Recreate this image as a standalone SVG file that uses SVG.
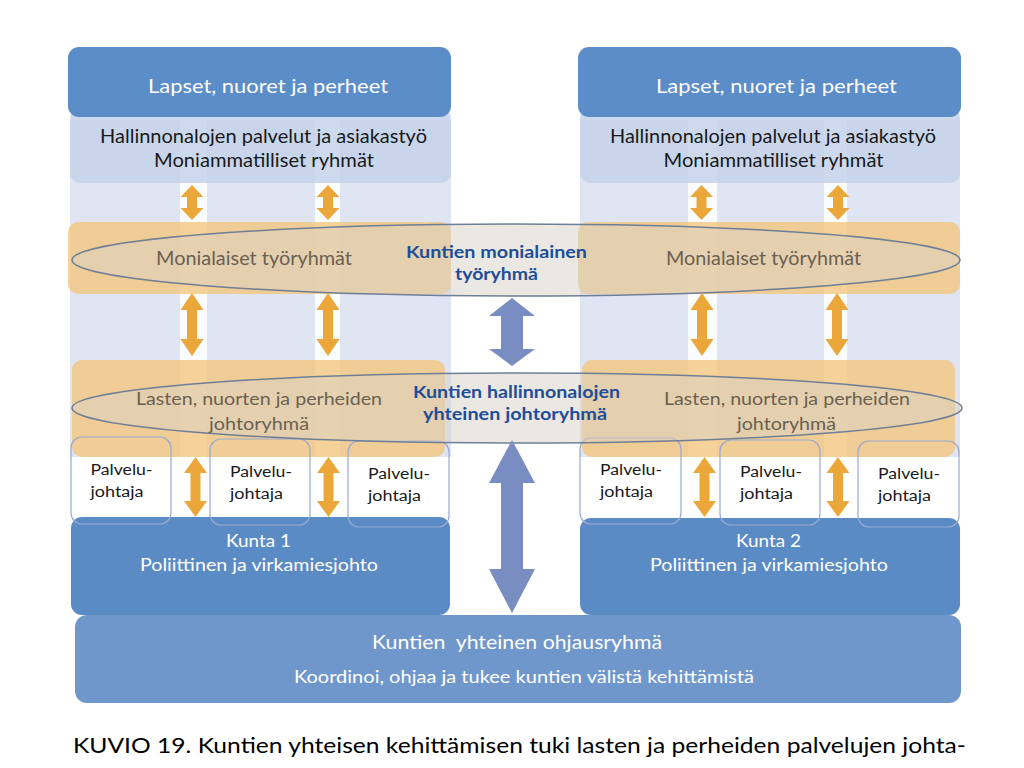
<svg xmlns="http://www.w3.org/2000/svg" width="1024" height="768" viewBox="0 0 1024 768">
<style>
text{font-family:Lato,"Open Sans","DejaVu Sans",sans-serif;}
.w{fill:#ffffff;}
.dk{fill:#1a1a1a;}
.br{fill:#6b6152;}
.bl{fill:#1f4e99;font-weight:bold;}
.col{fill:#dfe5f2;}
.stripe{fill:#fbfcfe;}
.hall{fill:#c4d2ea;opacity:0.85;}
.top{fill:#5b8dc8;}
.band{fill:#f4c77f;opacity:0.8;}
.pal{fill:none;stroke:#98aad0;stroke-width:1.2;}
.kunta{fill:#5b8bc5;}
.ell{fill:#d8d2c8;fill-opacity:0.5;stroke:#6f7f96;stroke-width:1.5;}
.oa{fill:#eba73a;}
.ba{fill:#7a8dc3;}
.bottom{fill:#6f97cb;}
</style>
<rect x="0" y="0" width="1024" height="768" fill="#ffffff"/>

<g id="left-column">
<rect class="col" x="70" y="120" width="381" height="337"/>
<rect class="stripe" x="180" y="120" width="27" height="337"/>
<rect class="stripe" x="315" y="120" width="25" height="337"/>
</g>
<g id="right-column">
<rect class="col" x="580" y="120" width="380" height="337"/>
<rect class="stripe" x="688" y="120" width="29" height="337"/>
<rect class="stripe" x="824" y="120" width="23" height="337"/>
</g>

<g id="hall-1">
<rect class="hall" x="70" y="108" width="381" height="75" rx="10"/>
<text class="dk" x="263.5" y="143" font-size="19" text-anchor="middle" textLength="327" lengthAdjust="spacingAndGlyphs">Hallinnonalojen palvelut ja asiakastyö</text>
<text class="dk" x="264" y="167" font-size="19" text-anchor="middle" textLength="220" lengthAdjust="spacingAndGlyphs">Moniammatilliset ryhmät</text>
</g>
<g id="hall-2">
<rect class="hall" x="580" y="108" width="380" height="75" rx="10"/>
<text class="dk" x="773" y="143" font-size="19" text-anchor="middle" textLength="326" lengthAdjust="spacingAndGlyphs">Hallinnonalojen palvelut ja asiakastyö</text>
<text class="dk" x="773.5" y="167" font-size="19" text-anchor="middle" textLength="220" lengthAdjust="spacingAndGlyphs">Moniammatilliset ryhmät</text>
</g>

<g id="lapset-1">
<rect class="top" x="68" y="47" width="383" height="70" rx="11"/>
<text class="w" x="268" y="93" font-size="20" text-anchor="middle" textLength="240" lengthAdjust="spacingAndGlyphs">Lapset, nuoret ja perheet</text>
</g>
<g id="lapset-2">
<rect class="top" x="578" y="47" width="383" height="70" rx="11"/>
<text class="w" x="776.5" y="93" font-size="20" text-anchor="middle" textLength="241" lengthAdjust="spacingAndGlyphs">Lapset, nuoret ja perheet</text>
</g>

<g id="monialaiset-1">
<rect class="band" x="68" y="222" width="383" height="72" rx="10"/>
</g>
<g id="monialaiset-2">
<rect class="band" x="578" y="222" width="382" height="72" rx="10"/>
</g>
<g id="lasten-1">
<rect class="band" x="72" y="360" width="373" height="97" rx="10"/>
</g>
<g id="lasten-2">
<rect class="band" x="582" y="360" width="373" height="97" rx="10"/>
</g>

<g id="kunta-1">
<rect class="kunta" x="71" y="517" width="379" height="98" rx="11"/>
<text class="w" x="258.5" y="546.5" font-size="17.5" text-anchor="middle" textLength="65" lengthAdjust="spacingAndGlyphs">Kunta 1</text>
<text class="w" x="259" y="571" font-size="17.5" text-anchor="middle" textLength="238" lengthAdjust="spacingAndGlyphs">Poliittinen ja virkamiesjohto</text>
</g>
<g id="kunta-2">
<rect class="kunta" x="580" y="518" width="380" height="97" rx="11"/>
<text class="w" x="768.5" y="546.5" font-size="17.5" text-anchor="middle" textLength="65" lengthAdjust="spacingAndGlyphs">Kunta 2</text>
<text class="w" x="769" y="571" font-size="17.5" text-anchor="middle" textLength="238" lengthAdjust="spacingAndGlyphs">Poliittinen ja virkamiesjohto</text>
</g>

<g id="palvelu-1a">
<rect class="pal" x="71" y="437" width="100" height="87" rx="11"/>
<text class="dk" x="90.5" y="475" font-size="15.5" textLength="62" lengthAdjust="spacingAndGlyphs">Palvelu-</text>
<text class="dk" x="90.5" y="497" font-size="15.5" textLength="53" lengthAdjust="spacingAndGlyphs">johtaja</text>
</g>
<g id="palvelu-1b">
<rect class="pal" x="210" y="439" width="100" height="86" rx="11"/>
<text class="dk" x="230" y="476.5" font-size="15.5" textLength="62" lengthAdjust="spacingAndGlyphs">Palvelu-</text>
<text class="dk" x="230" y="498.5" font-size="15.5" textLength="53" lengthAdjust="spacingAndGlyphs">johtaja</text>
</g>
<g id="palvelu-1c">
<rect class="pal" x="348" y="441" width="101" height="86" rx="11"/>
<text class="dk" x="368" y="478.5" font-size="15.5" textLength="62" lengthAdjust="spacingAndGlyphs">Palvelu-</text>
<text class="dk" x="368" y="500.5" font-size="15.5" textLength="53" lengthAdjust="spacingAndGlyphs">johtaja</text>
</g>
<g id="palvelu-2a">
<rect class="pal" x="580" y="438" width="101" height="86" rx="11"/>
<text class="dk" x="600" y="475" font-size="15.5" textLength="62" lengthAdjust="spacingAndGlyphs">Palvelu-</text>
<text class="dk" x="600" y="497" font-size="15.5" textLength="53" lengthAdjust="spacingAndGlyphs">johtaja</text>
</g>
<g id="palvelu-2b">
<rect class="pal" x="720" y="440" width="100" height="85" rx="11"/>
<text class="dk" x="740" y="476.5" font-size="15.5" textLength="62" lengthAdjust="spacingAndGlyphs">Palvelu-</text>
<text class="dk" x="740" y="498.5" font-size="15.5" textLength="53" lengthAdjust="spacingAndGlyphs">johtaja</text>
</g>
<g id="palvelu-2c">
<rect class="pal" x="858" y="441" width="101" height="86" rx="11"/>
<text class="dk" x="878" y="478.5" font-size="15.5" textLength="62" lengthAdjust="spacingAndGlyphs">Palvelu-</text>
<text class="dk" x="878" y="500.5" font-size="15.5" textLength="53" lengthAdjust="spacingAndGlyphs">johtaja</text>
</g>

<g id="kuntien-monialainen">
<ellipse class="ell" cx="516" cy="260" rx="444" ry="36"/>
<text class="bl" x="496.5" y="258" font-size="17.5" text-anchor="middle" textLength="181" lengthAdjust="spacingAndGlyphs">Kuntien monialainen</text>
<text class="bl" x="496.5" y="279.5" font-size="17.5" text-anchor="middle" textLength="83" lengthAdjust="spacingAndGlyphs">työryhmä</text>
</g>
<g id="kuntien-johtoryhma">
<ellipse class="ell" cx="517" cy="408" rx="445" ry="35"/>
<text class="bl" x="516.5" y="398" font-size="17.5" text-anchor="middle" textLength="207" lengthAdjust="spacingAndGlyphs">Kuntien hallinnonalojen</text>
<text class="bl" x="515" y="420" font-size="17.5" text-anchor="middle" textLength="184" lengthAdjust="spacingAndGlyphs">yhteinen johtoryhmä</text>
</g>

<g id="band-labels">
<text class="br" x="254" y="265" font-size="18.5" text-anchor="middle" textLength="196" lengthAdjust="spacingAndGlyphs">Monialaiset työryhmät</text>
<text class="br" x="763.5" y="265" font-size="18.5" text-anchor="middle" textLength="195" lengthAdjust="spacingAndGlyphs">Monialaiset työryhmät</text>
<text class="br" x="259" y="405" font-size="18" text-anchor="middle" textLength="246" lengthAdjust="spacingAndGlyphs">Lasten, nuorten ja perheiden</text>
<text class="br" x="259" y="430" font-size="18" text-anchor="middle" textLength="100" lengthAdjust="spacingAndGlyphs">johtoryhmä</text>
<text class="br" x="787" y="405" font-size="18" text-anchor="middle" textLength="246" lengthAdjust="spacingAndGlyphs">Lasten, nuorten ja perheiden</text>
<text class="br" x="786.5" y="430" font-size="18" text-anchor="middle" textLength="99" lengthAdjust="spacingAndGlyphs">johtoryhmä</text>
</g>

<g id="ohjausryhma">
<rect class="bottom" x="75" y="615" width="886" height="88" rx="12"/>
<text class="w" x="517" y="649" font-size="19.5" text-anchor="middle" textLength="290" lengthAdjust="spacingAndGlyphs" xml:space="preserve">Kuntien  yhteinen ohjausryhmä</text>
<text class="w" x="524" y="683" font-size="16.5" text-anchor="middle" textLength="460" lengthAdjust="spacingAndGlyphs">Koordinoi, ohjaa ja tukee kuntien välistä kehittämistä</text>
</g>

<g id="connectors">
<path class="oa" d="M192,185 L203.5,197 L197,197 L197,208 L203.5,208 L192,220 L180.5,208 L187,208 L187,197 L180.5,197 Z"/>
<path class="oa" d="M328,185 L339.5,197 L333,197 L333,208 L339.5,208 L328,220 L316.5,208 L323,208 L323,197 L316.5,197 Z"/>
<path class="oa" d="M701.5,185 L713,197 L706.5,197 L706.5,208 L713,208 L701.5,220 L690,208 L696.5,208 L696.5,197 L690,197 Z"/>
<path class="oa" d="M838,185 L849.5,197 L843,197 L843,208 L849.5,208 L838,220 L826.5,208 L833,208 L833,197 L826.5,197 Z"/>

<path class="oa" d="M192,293 L203.5,310 L197,310 L197,339 L203.5,339 L192,356 L180.5,339 L187,339 L187,310 L180.5,310 Z"/>
<path class="oa" d="M328,293 L339.5,310 L333,310 L333,339 L339.5,339 L328,356 L316.5,339 L323,339 L323,310 L316.5,310 Z"/>
<path class="oa" d="M702,293 L713.5,310 L707,310 L707,339 L713.5,339 L702,356 L690.5,339 L697,339 L697,310 L690.5,310 Z"/>
<path class="oa" d="M837,293 L848.5,310 L842,310 L842,339 L848.5,339 L837,356 L825.5,339 L832,339 L832,310 L825.5,310 Z"/>

<path class="oa" d="M195.5,457 L207,473 L200.5,473 L200.5,501 L207,501 L195.5,517 L184,501 L190.5,501 L190.5,473 L184,473 Z"/>
<path class="oa" d="M328.5,457 L340,473 L333.5,473 L333.5,501 L340,501 L328.5,517 L317,501 L323.5,501 L323.5,473 L317,473 Z"/>
<path class="oa" d="M704.5,457 L716,473 L709.5,473 L709.5,501 L716,501 L704.5,517 L693,501 L699.5,501 L699.5,473 L693,473 Z"/>
<path class="oa" d="M838,457 L849.5,473 L843,473 L843,501 L849.5,501 L838,517 L826.5,501 L833,501 L833,473 L826.5,473 Z"/>

<path class="ba" d="M512,298 L535,316 L523,316 L523,349 L535,349 L512,366 L489,349 L501,349 L501,316 L489,316 Z"/>
<path class="ba" d="M512,440 L535,483 L523,483 L523,569 L535,569 L512,613 L489,569 L501,569 L501,483 L489,483 Z"/>
</g>

<text class="dk" x="73" y="753" font-size="21" textLength="893" lengthAdjust="spacingAndGlyphs" style="fill:#000000">KUVIO 19. Kuntien yhteisen kehittämisen tuki lasten ja perheiden palvelujen johta-</text>
</svg>
